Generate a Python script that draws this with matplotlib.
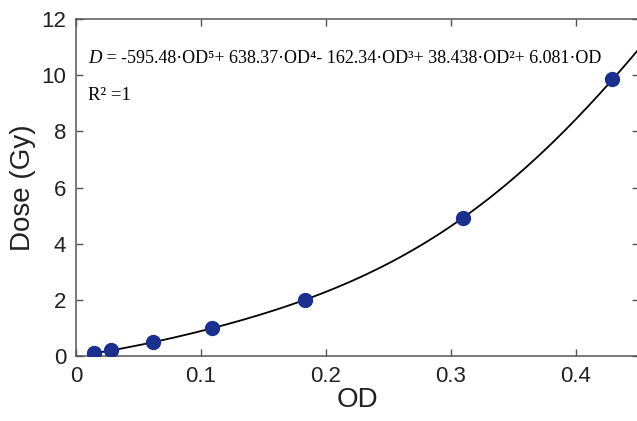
import numpy as np
import matplotlib
matplotlib.use("Agg")
import matplotlib.pyplot as plt

# Data
od = [0.0147, 0.0277, 0.0619, 0.1085, 0.1830, 0.3099, 0.4290]
dose = [0.10, 0.20, 0.50, 1.00, 2.00, 4.90, 9.85]
# Fit coefficients (highest power first), from the annotation
coeffs = [-595.48, 638.37, -162.34, 38.438, 6.081, 0.0]
xticks = [0, 0.1, 0.2, 0.3, 0.4]
yticks = [0, 2, 4, 6, 8, 10, 12]

W, H = 637, 421
fig = plt.figure(figsize=(W / 100, H / 100), dpi=100)
left, right, top, bottom = 76, 638.5, 19, 356
ax = fig.add_axes([left / W, 1 - bottom / H, (right - left) / W, (bottom - top) / H])

xf = np.linspace(od[0], 0.46, 300)
ax.plot(xf, np.polyval(coeffs, xf), color='black', lw=1.3, zorder=2)
ax.plot(od, dose, 'o', color='#1b2f8e', ms=10, zorder=3)

ax.set_xlim(0, 0.45)
ax.set_ylim(0, 12)
ax.set_xticks(xticks)
ax.set_xticklabels([f"{t:g}" for t in xticks])
ax.set_yticks(yticks)

for s in ax.spines.values():
    s.set_color('#555555')
    s.set_linewidth(1.1)
ax.tick_params(direction='in', length=5, width=1.0, color='#555555',
               top=True, right=True, labelsize=16, labelcolor='#222222', pad=7)
for lab in ax.get_xticklabels() + ax.get_yticklabels():
    lab.set_fontfamily('Liberation Sans')

ax.set_xlabel('OD', fontsize=20, family='Liberation Sans', color='#222222', labelpad=0)
ax.set_ylabel('Dose (Gy)', fontsize=20, family='Liberation Sans', color='#222222', labelpad=4)

serif = ['Liberation Serif', 'DejaVu Serif']
t1 = ax.text(0.0096, 10.45, "D", fontsize=13.5, family=serif, style='italic',
             va='baseline', ha='left')
rest = " = -595.48·OD⁵+ 638.37·OD⁴- 162.34·OD³+ 38.438·OD²+ 6.081·OD"
ax.annotate(rest, xy=(1, 0), xycoords=t1, xytext=(0, 0), textcoords='offset points',
            fontsize=13, family=serif, va='bottom', ha='left')
ax.text(0.0096, 9.1, "R² =1", fontsize=13.5, family=serif, va='baseline', ha='left')

fig.savefig('out.png', dpi=100)
